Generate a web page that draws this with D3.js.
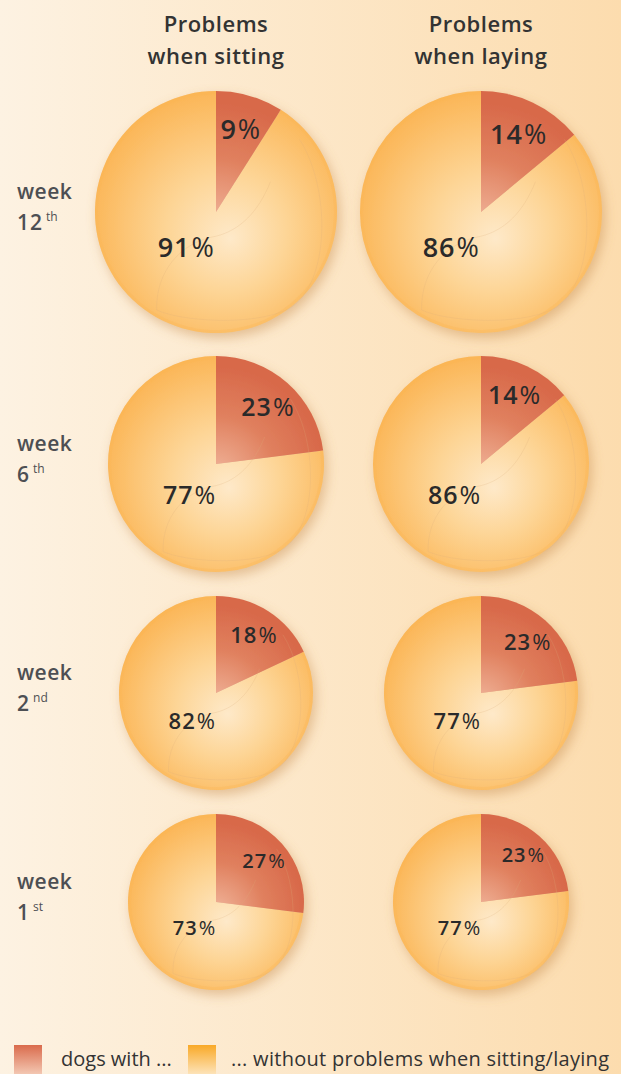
<!DOCTYPE html>
<html>
<head>
<meta charset="utf-8">
<script src="https://cdn.jsdelivr.net/npm/d3@7"></script>
<style>
  body { margin: 0; }
  svg { display: block; font-family: "Open Sans", "Noto Sans", sans-serif; }
</style>
</head>
<body>
<svg id="chart" width="621" height="1074"></svg>
<script>
// data
var weeks = ["12", "6", "2", "1"];
var weekSuffix = ["th", "th", "nd", "st"];
var columns = ["sitting", "laying"];
var sitting = [9, 23, 18, 27];   // % dogs with problems when sitting
var laying = [14, 14, 23, 23];   // % dogs with problems when laying
var legendLabels = ["dogs with ...", "... without problems when sitting/laying"];

var W = 621, H = 1074;
var svg = d3.select('#chart');
var defs = svg.append('defs');

// background: cream on the left to pale orange on the right
var bg = defs.append('linearGradient').attr('id', 'bg');
bg.append('stop').attr('offset', '0%').attr('stop-color', '#fdf2e2');
bg.append('stop').attr('offset', '100%').attr('stop-color', '#fcdcae');
svg.append('rect').attr('width', W).attr('height', H).attr('fill', 'url(#bg)');

var shadow = defs.append('filter').attr('id', 'shadow')
  .attr('x', '-20%').attr('y', '-20%').attr('width', '140%').attr('height', '140%');
shadow.append('feDropShadow').attr('dx', 3).attr('dy', 5)
  .attr('stdDeviation', 6).attr('flood-color', '#c48a48').attr('flood-opacity', 0.45);

// legend swatch gradients
var lgRed = defs.append('linearGradient').attr('id', 'lgRed').attr('x1', 0).attr('x2', 0).attr('y1', 0).attr('y2', 1);
lgRed.append('stop').attr('offset', '0%').attr('stop-color', '#da6b4c');
lgRed.append('stop').attr('offset', '100%').attr('stop-color', '#f3c7b2');
var lgOr = defs.append('linearGradient').attr('id', 'lgOr').attr('x1', 0).attr('x2', 0).attr('y1', 0).attr('y2', 1);
lgOr.append('stop').attr('offset', '0%').attr('stop-color', '#f9a927');
lgOr.append('stop').attr('offset', '100%').attr('stop-color', '#fde3b8');

// layout
var colX = d3.scaleOrdinal().domain(columns).range([216, 481]);
var rowY = d3.scaleOrdinal().domain(weeks).range([212, 464, 693, 902]);
var rowR = d3.scaleOrdinal().domain(weeks).range([121, 108, 97, 88]);
var rowFont = d3.scaleOrdinal().domain(weeks).range([27, 25, 22, 20]);

var pie = d3.pie().sort(null).value(function(d) { return d.value; });

// per-size gradients in pie-local coordinates (centre at 0,0)
weeks.forEach(function(w, i) {
  var r = rowR(w);
  var go = defs.append('radialGradient').attr('id', 'gOr' + i)
    .attr('gradientUnits', 'userSpaceOnUse')
    .attr('cx', 0.05 * r).attr('cy', 0.1 * r).attr('r', 1.1 * r)
    .attr('fx', 0.12 * r).attr('fy', 0.22 * r);
  go.append('stop').attr('offset', '0%').attr('stop-color', '#fee9c9');
  go.append('stop').attr('offset', '45%').attr('stop-color', '#fdd596');
  go.append('stop').attr('offset', '100%').attr('stop-color', '#fbb657');
  var gr = defs.append('radialGradient').attr('id', 'gRed' + i)
    .attr('gradientUnits', 'userSpaceOnUse')
    .attr('cx', 0).attr('cy', 0.1 * r).attr('r', r);
  gr.append('stop').attr('offset', '0%').attr('stop-color', '#f0b49a');
  gr.append('stop').attr('offset', '55%').attr('stop-color', '#e0805e');
  gr.append('stop').attr('offset', '100%').attr('stop-color', '#d8694a');
});

// column titles
var titles = [["Problems", "when sitting"], ["Problems", "when laying"]];
columns.forEach(function(c, i) {
  var t = svg.append('text').attr('x', colX(c)).attr('text-anchor', 'middle')
    .attr('font-size', 22).attr('font-weight', 600).attr('fill', '#333')
    .attr('letter-spacing', 0.5);
  t.append('tspan').attr('x', colX(c)).attr('y', 32).text(titles[i][0]);
  t.append('tspan').attr('x', colX(c)).attr('y', 64).text(titles[i][1]);
});

weeks.forEach(function(w, i) {
  var cy = rowY(w), r = rowR(w), fs = rowFont(w);

  // week label on the left
  var lab = svg.append('g').attr('fill', '#4d4f53').attr('font-size', 21).attr('font-weight', 600);
  lab.append('text').attr('x', 17).attr('y', cy - 13).attr('letter-spacing', 0.5).text('week');
  var t2 = lab.append('text').attr('x', 17).attr('y', cy + 18);
  t2.append('tspan').attr('letter-spacing', 1).text(w);
  t2.append('tspan').attr('dx', 3).attr('dy', -9).attr('font-size', 12).attr('font-weight', 500).text(weekSuffix[i]);

  [sitting[i], laying[i]].forEach(function(v, j) {
    var cx = colX(columns[j]);
    var arcs = pie([{key: 'with', value: v}, {key: 'without', value: 100 - v}]);
    var arc = d3.arc().innerRadius(0).outerRadius(r);
    var rim = d3.arc().innerRadius(r - 3).outerRadius(r);
    var g = svg.append('g').attr('transform', 'translate(' + cx + ',' + cy + ')');

    var slices = g.append('g').attr('filter', 'url(#shadow)');
    slices.append('path').datum(arcs[1]).attr('d', arc).attr('fill', 'url(#gOr' + i + ')');
    slices.append('path').datum(arcs[0]).attr('d', arc).attr('fill', 'url(#gRed' + i + ')');

    // soft rim on the orange part only
    g.append('path').datum(arcs[1]).attr('d', rim)
      .attr('fill', '#fbb552').attr('fill-opacity', 0.3);

    // faint reflection outline inside the disc
    var p = function(x, y) { return (x * r).toFixed(1) + ',' + (y * r).toFixed(1); };
    g.append('path')
      .attr('d', 'M' + p(0.69, -0.6) +
        ' C' + p(0.95, -0.2) + ' ' + p(0.95, 0.6) + ' ' + p(0.6, 0.8) +
        ' C' + p(0.3, 0.95) + ' ' + p(-0.3, 0.9) + ' ' + p(-0.49, 0.81) +
        ' C' + p(-0.5, 0.5) + ' ' + p(-0.3, 0.25) + ' ' + p(0.0, 0.2) +
        ' C' + p(0.2, 0.15) + ' ' + p(0.35, 0.0) + ' ' + p(0.45, -0.25))
      .attr('fill', 'none').attr('stroke', '#dcae7a').attr('stroke-opacity', 0.28).attr('stroke-width', 0.8);

    // labels
    var mid = (arcs[0].startAngle + arcs[0].endAngle) / 2;
    var lr = 0.72 * r;
    var labels = [
      {x: Math.sin(mid) * lr, y: -Math.cos(mid) * lr, v: v},
      {x: -0.25 * r, y: 0.28 * r, v: 100 - v}
    ];
    labels.forEach(function(l) {
      var t = g.append('text').attr('x', l.x).attr('y', l.y)
        .attr('text-anchor', 'middle').attr('dominant-baseline', 'central')
        .attr('font-size', fs).attr('fill', '#2a2a2a');
      t.append('tspan').attr('font-weight', 600).attr('letter-spacing', 1).text(l.v);
      t.append('tspan').attr('dx', 1).attr('font-weight', 400).text('%');
    });
  });
});

// legend
var leg = svg.append('g').attr('font-size', 20).attr('fill', '#333');
leg.append('rect').attr('x', 14).attr('y', 1045).attr('width', 28).attr('height', 29).attr('fill', 'url(#lgRed)');
leg.append('text').attr('x', 61).attr('y', 1066).text(legendLabels[0]);
leg.append('rect').attr('x', 188).attr('y', 1045).attr('width', 28).attr('height', 29).attr('fill', 'url(#lgOr)');
leg.append('text').attr('x', 231).attr('y', 1066).attr('textLength', 378).attr('lengthAdjust', 'spacing').text(legendLabels[1]);
</script>
</body>
</html>
